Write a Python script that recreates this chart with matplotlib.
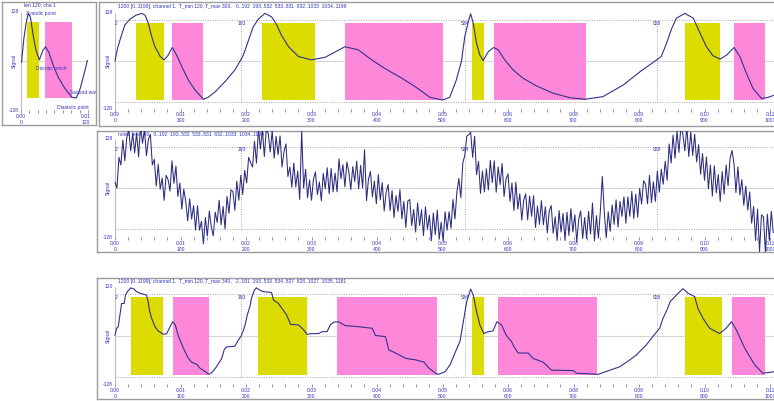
import matplotlib
matplotlib.use('Agg')
import matplotlib.pyplot as plt
from matplotlib import font_manager as fm
from matplotlib.patches import Rectangle
from matplotlib.transforms import offset_copy

# ---------------- data ----------------
# template beat (small panel), sample index / signal value
small_s = [1, 5, 9, 13, 17, 22, 27, 33, 39, 44, 50, 58, 67, 79, 91, 99, 106, 113, 119]
small_v = [-3, 57, 97, 124, 113, 65, 27, 3, 27, 37, 22, -12, -43, -72, -94, -96, -72, -34, 1]
small_yellow = [(10, 33)]
small_pink = [(43, 91)]
small_labels = ["len 120; cha 1", "Systolic point", "Dicrotic notch", "Second wave", "Diastolic point"]

# clean signal (top panel)
top_s = [0, 4, 8, 15, 23, 32, 41, 46, 51, 56,
         61, 69, 75, 81, 87.5, 94, 102, 112, 122, 135,
         142, 153, 168, 183, 191, 196, 204, 211, 219, 229,
         239, 247, 254, 265, 280, 300, 321, 351, 371, 392,
         412, 438, 458, 481, 500, 511, 521, 529, 534, 540,
         543, 547, 552, 557, 562, 570, 578, 585, 595, 608,
         623, 643, 669, 695, 718, 745, 776, 802, 827, 834,
         842, 850, 857, 870, 883, 893, 903, 913, 924, 934,
         945, 954, 964, 974, 987, 997, 1005]
top_v = [0, 35, 58, 96, 112, 122, 127, 122, 100, 65,
         38, 12, 3, 15, 36, 16, -15, -51, -77, -102,
         -97, -82, -55, -24, 0, 16, 56, 91, 112, 127,
         118, 96, 69, 38, 12, 3, 10, 38, 30, 3,
         -20, -46, -68, -97, -104, -97, -51, 0, 65, 109,
         126, 100, 47, 16, 1, 25, 36, 30, 3, -24,
         -46, -66, -86, -98, -102, -95, -64, -28, 3, 12,
         47, 87, 114, 127, 114, 75, 38, 14, 5, 16,
         36, 12, -33, -73, -100, -97, -92]
top_yellow = [(31.6, 74.8), (225, 305), (544.5, 563), (870, 924)]
top_pink = [(87.5, 135), (351, 500), (578, 719), (945.6, 992)]

# noisy signal (middle panel), one value every 3 samples starting at 0
noise_step = 3
noise_v = [15, 0, 80, 60, 125, 71, 132, 153, 97, 143,
           92, 144, 81, 162, 117, 153, 84, 127, 140, 60,
           75, 5, 62, -3, 26, -32, 33, 22, -8, 71,
           12, 57, -22, 13, -55, -3, -35, -86, -28, -81,
           -46, -110, -46, -110, -87, -146, -77, -125, -60, -101,
           -125, -63, -90, -32, -96, -48, -107, -22, -66, -5,
           -9, -58, 18, -32, 33, -17, 46, 13, 80, 66,
           55, 122, 65, 153, 102, 153, 82, 154, 142, 94,
           150, 78, 135, 87, 136, 55, 95, 115, 30, 55,
           2, 65, 3, 44, -30, 150, 0, 49, -25, 21,
           -32, 23, 42, -17, 16, -33, 38, -2, 53, -15,
           51, -10, 39, -10, 76, 24, 61, 3, 68, 42,
           -4, 56, 17, 70, -2, 59, 0, 100, -33, 23,
           43, -23, 18, -41, 35, -31, 14, -60, -11, 9,
           -59, -7, -77, -20, -61, -4, -81, -35, -103, -34,
           -30, -98, -56, -115, -39, -98, -57, -124, -49, -108,
           -71, -138, -65, -122, -58, -134, -89, -138, -62, -110,
           -62, -105, -30, -81, -10, 25, -25, 65, 85, 135,
           139, 146, 80, 135, 35, 70, -14, 44, -10, 50,
           -5, 72, 14, 71, -11, 55, 9, 64, -22, 23,
           37, -35, 13, -59, 15, -55, -15, -84, -32, -15,
           -83, -21, -74, -20, -103, -47, -95, -33, -96, -49,
           -117, -59, -46, -118, -75, -137, -59, -115, -66, -137,
           -63, -124, -54, -115, -70, -141, -81, -60, -132, -77,
           -132, -61, -120, -39, -138, -72, -131, -60, 30, -63,
           -130, -62, -113, -44, -95, -31, -102, -35, -74, -23,
           -92, -23, -74, -9, -80, -16, -76, -1, -42, 19,
           10, -41, 33, -38, 16, -35, 44, -11, 49, 10,
           70, 20, 115, 65, 138, 78, 149, 93, 162, 140,
           97, 161, 82, 146, 85, 140, 68, 113, 36, 90,
           20, 81, -2, 60, -21, 58, -13, 35, -35, 43,
           -16, 60, 6, 77, 98, 64, -12, 55, -18, 22,
           -45, 5, -58, -10, -92, -48, -137, -55, -166, -70,
           -75, -169, -68, -137, -61, -116]
noise_s = [i * noise_step for i in range(len(noise_v))]

# quantised signal (bottom panel)
bot_s = [0, 2.5, 5, 7.6, 10, 14, 16, 19, 24, 29,
         33, 38, 48, 50.6, 53, 56, 61, 66, 74, 79,
         84, 88, 92, 97, 104.6, 112, 117, 125, 130, 138,
         143, 148, 155, 163, 167, 170.5, 183, 188, 193, 198,
         202, 206, 208.6, 212.7, 216, 221, 226, 239, 242, 249.6,
         255, 262, 268, 280, 288, 293, 300.6, 310.7, 316, 323.7,
         328.8, 333.9, 341.5, 351.7, 372, 392.6, 397.7, 413, 418, 428.5,
         443.7, 459, 471.8, 479.4, 489.6, 493.6, 504, 511.5, 519, 526.7,
         531.8, 537, 543, 547, 552, 557, 563, 569.6, 577, 583,
         590, 597.5, 605, 610, 615.5, 630.8, 638, 653.7, 666.4, 699.5,
         704.6, 737.7, 755.5, 770.7, 786, 796, 811, 822.4, 831.6, 836.6,
         842.7, 847.8, 857, 867, 874.8, 885, 890, 897.7, 907.9, 923,
         933, 941, 948.6, 961, 976.6, 989, 999, 1006]
bot_v = [1, 19, 23, 54, 84, 84, 106, 115, 125, 122,
         115, 111, 106, 89, 63, 45, 23, 12, 3, 5,
         23, 36, 28, -3, -34, -60, -70, -76, -86, -95,
         -102, -97, -82, -60, -36, -30, -28, -13, 0, 23,
         54, 76, 99, 119, 125, 119, 115, 113, 93, 84,
         71, 54, 29, 28, 15, 3, 5, 5, 10, 10,
         28, 35, 36, 26, 23, 19, 0, -3, -38, -46,
         -60, -64, -70, -86, -99, -102, -95, -77, -46, -15,
         36, 89, 122, 106, 63, 28, 5, 10, 12, 36,
         28, 0, -15, -32, -46, -46, -60, -70, -91, -92,
         -99, -102, -91, -82, -64, -51, -25, 0, 19, 45,
         67, 89, 106, 123, 111, 102, 71, 45, 19, 5,
         19, 36, 15, -32, -77, -99, -97, -95]
bot_yellow = [(24.4, 72.8), (219, 292.6), (545, 564), (870, 926)]
bot_pink = [(88, 143.5), (339.5, 492), (584, 736), (941.5, 993)]

marker_pos = [2, 193, 534, 828]
marker_labels = ['2', '193', '534', '828']
tick_samples = [0, 100, 200, 300, 400, 500, 600, 700, 800, 900, 1000]
tick_times = ['0.00', '0.01', '0.02', '0.03', '0.04', '0.05', '0.06', '0.08', '0.09', '0.10', '0.11']

header_top = "1200 [0..1199], channel 1.  T_min 120, T_max 300.   0..192  193..532  533..831  832..1033  1034..1199"
header_mid = "noise level 40   0..192  193..532  533..831  832..1033  1034..1199"
header_bot = "1200 [0..1199], channel 1.  T_min 120, T_max 340.   2..191  193..533  534..827  828..1027  1035..1181"

# ---------------- style ----------------
W, H, DPI = 774, 401, 100
LINE = '#32328a'
NOISE = '#2c2c80'
TXT = '#3434bc'
YEL = '#dcdc00'
PINK = '#fd88d9'
GRID = '#d6d6d6'
DOT = '#a8a8a8'
BORDER = '#9c9c9c'
RECT_LO, RECT_HI = -103, 102
DOT_LEVEL = 108

names = {f.name for f in fm.fontManager.ttflist}
if 'Liberation Sans Narrow' in names:
    FAM = 'Liberation Sans Narrow'
elif 'Liberation Sans' in names:
    FAM = 'Liberation Sans'
else:
    FAM = 'DejaVu Sans'
plt.rcParams['font.family'] = FAM

fig = plt.figure(figsize=(W / DPI, H / DPI), dpi=DPI)
fig.patch.set_facecolor('white')

probe = fig.text(0, 0, header_top, fontsize=10)
fig.canvas.draw()
wpx = probe.get_window_extent(renderer=fig.canvas.get_renderer()).width
probe.remove()
FS = 10 * 229.0 / wpx


class Panel:
    def __init__(self, box, s0, pxs, vc, pxv):
        x0, y0, x1, y1 = box
        self.s0, self.pxs, self.vc, self.pxv = s0, pxs, vc, pxv
        ax = fig.add_axes([x0 / W, 1 - y1 / H, (x1 - x0) / W, (y1 - y0) / H])
        ax.set_xlim(self.S(x0), self.S(x1))
        ax.set_ylim(self.V(y1), self.V(y0))
        ax.set_xticks([])
        ax.set_yticks([])
        for sp in ax.spines.values():
            sp.set_color(BORDER)
            sp.set_linewidth(1.0)
        self.ax = ax

    def S(self, px):
        return (px - self.s0) / self.pxs

    def V(self, py):
        return (self.vc - py) / self.pxv


def txt(ax, x, y, s, **kw):
    kw.setdefault('fontsize', FS)
    kw.setdefault('color', TXT)
    kw.setdefault('va', 'center')
    return ax.text(x, y, s, **kw)


def axes_frame(p, smax, tick_step, ytop_lbl):
    ax = p.ax
    ax.hlines(0, 0, smax, colors=GRID, lw=0.8, zorder=1)
    ax.vlines(0, -128, 128, colors='#bdbdbd', lw=0.8, zorder=3)
    tl = 2.5 / p.pxv
    ax.vlines(list(range(0, int(smax) + 1, tick_step)), -128 - tl, -128,
              colors='#8080a8', lw=0.6, zorder=3)
    txt(ax, p.S(p.s0 - 2.5), 128, ytop_lbl, ha='right')
    txt(ax, p.S(p.s0 - 2.5), -128, '-128', ha='right')
    txt(ax, p.S(p.s0 - 7), 0, 'Signal', ha='center', rotation=90)


def draw_wide(p, header, hy, ytop_lbl, curve_s, curve_v, yellow, pink, lw=0.8, color=LINE):
    ax = p.ax
    smax = 1000
    xr = ax.get_xlim()[1]
    txt(ax, p.S(118), p.V(hy), header, ha='left', zorder=6)
    axes_frame(p, smax, 20, ytop_lbl)
    ax.hlines(0, smax, xr, colors=GRID, lw=0.8, zorder=1)
    for a, b in yellow:
        ax.add_patch(Rectangle((a, RECT_LO), b - a, RECT_HI - RECT_LO, fc=YEL, ec='none', zorder=2))
    for a, b in pink:
        ax.add_patch(Rectangle((a, RECT_LO), b - a, RECT_HI - RECT_LO, fc=PINK, ec='none', zorder=2))
    ax.hlines([DOT_LEVEL, -DOT_LEVEL], 0, xr, colors=DOT, linestyles=(0, (1, 1.5)), lw=0.7, zorder=3)
    ax.vlines(marker_pos[1:], -DOT_LEVEL, DOT_LEVEL, colors=DOT, linestyles=(0, (1, 1.5)), lw=0.7, zorder=3)
    for s, lab in zip(marker_pos, marker_labels):
        txt(ax, s, 101, lab, ha='center', zorder=6)
    for s, tlab in zip(tick_samples, tick_times):
        txt(ax, s, -128 - 6 / p.pxv, tlab, ha='center')
        txt(ax, s, -128 - 12 / p.pxv, str(s), ha='center')
    ax.plot(curve_s, curve_v, color=color, lw=lw, zorder=5)


# ---------- small template panel ----------
p0 = Panel((2, 2, 96, 125), 21, 0.558, 61, 0.385)
ax0 = p0.ax
axes_frame(p0, 120, 15, '128')
for a, b in small_yellow:
    ax0.add_patch(Rectangle((a, -96), b - a, 198, fc=YEL, ec='none', zorder=2))
for a, b in small_pink:
    ax0.add_patch(Rectangle((a, -96), b - a, 198, fc=PINK, ec='none', zorder=2))
ax0.plot(small_s, small_v, color=LINE, lw=0.8, zorder=5)
lbl_px = [(24.5, 5), (26, 13), (36.5, 68.5), (70, 92), (57, 108)]
for (x, y), s in zip(lbl_px, small_labels):
    t = txt(ax0, p0.S(x), p0.V(y), s, ha='left', zorder=6)
    t.set_clip_on(True)
txt(ax0, 0, -128 - 6 / p0.pxv, '0.00', ha='center')
txt(ax0, 0, -128 - 12 / p0.pxv, '0', ha='center')
tr = offset_copy(ax0.transData, fig=fig, x=-2.5, y=0, units='dots')
txt(ax0, 120, -128 - 6 / p0.pxv, '0.01', ha='center', transform=tr)
txt(ax0, 120, -128 - 12 / p0.pxv, '120', ha='center', transform=tr)

# ---------- wide panels ----------
pT = Panel((99, 2.5, 777, 126), 115, 0.655, 61, 0.375)
draw_wide(pT, header_top, 6.5, '128', top_s, top_v, top_yellow, top_pink)

pM = Panel((97, 130.5, 777, 252), 115, 0.655, 188, 0.383)
draw_wide(pM, header_mid, 134.5, '128', noise_s, noise_v, [], [], lw=0.75, color=NOISE)

pB = Panel((97, 278, 777, 399), 115, 0.655, 335.5, 0.381)
draw_wide(pB, header_bot, 282, '120', bot_s, bot_v, bot_yellow, bot_pink)

fig.savefig('out.png', dpi=DPI)
